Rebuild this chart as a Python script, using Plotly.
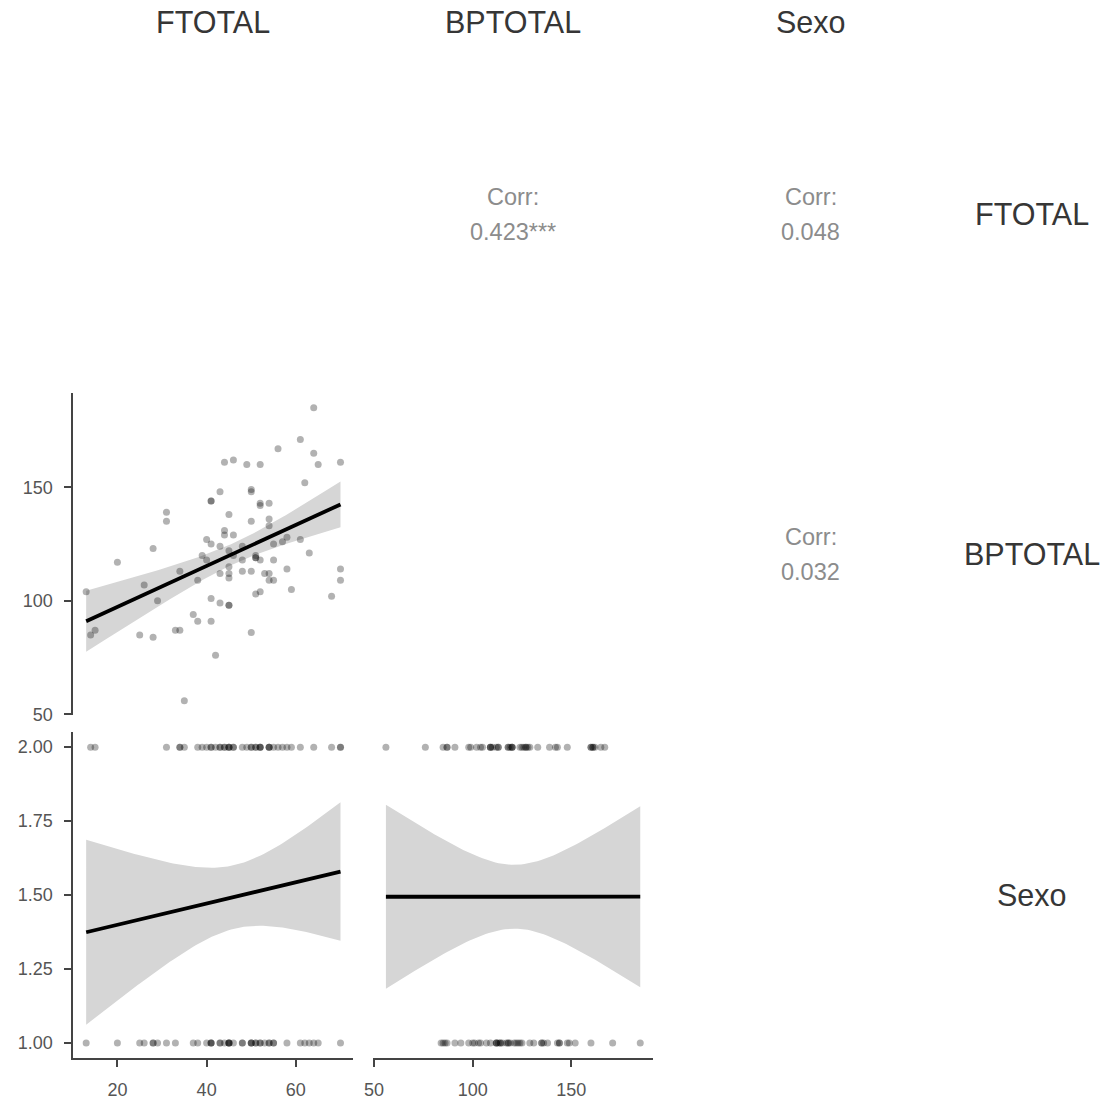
import numpy as np
import plotly.graph_objects as go

# ---------------- data ----------------
FTOTAL = [13, 14, 15, 20, 25, 26, 28, 28, 29, 31, 31, 33, 34, 34, 35, 37, 38, 38, 39, 40,
          40, 41, 41, 41, 41, 41, 42, 43, 43, 43, 43, 44, 44, 44, 45, 45, 45, 45, 45, 45,
          45, 46, 46, 46, 48, 48, 48, 49, 50, 50, 50, 50, 50, 51, 51, 51, 51, 52, 52, 52,
          52, 52, 53, 54, 54, 54, 54, 54, 55, 55, 55, 56, 57, 58, 58, 59, 61, 61, 62, 63,
          64, 64, 65, 68, 70, 70, 70]
BPTOTAL = [104, 85, 87, 117, 85, 107, 123, 84, 100, 139, 135, 87, 87, 113, 56, 94, 109, 91, 120, 127,
           118, 144, 144, 125, 101, 91, 76, 148, 124, 112, 99, 161, 131, 129, 138, 122, 115, 112, 110, 98,
           98, 162, 129, 120, 124, 118, 113, 160, 149, 148, 135, 113, 86, 120, 119, 119, 103, 160, 143, 142,
           118, 104, 112, 143, 136, 133, 112, 109, 125, 118, 109, 167, 126, 128, 114, 105, 171, 127, 152, 121,
           185, 165, 160, 102, 161, 114, 109]
Sexo = [1, 2, 2, 1, 1, 1, 1, 1, 1, 2, 1, 1, 2, 2, 2, 1, 2, 1, 2, 2,
        1, 1, 1, 2, 1, 2, 2, 1, 2, 1, 2, 2, 1, 2, 1, 1, 1, 2, 2, 2,
        1, 2, 1, 2, 1, 2, 1, 2, 1, 2, 1, 2, 1, 2, 1, 2, 1, 2, 1, 2,
        1, 2, 1, 2, 1, 2, 1, 2, 1, 2, 1, 2, 2, 2, 1, 2, 1, 2, 1, 1,
        1, 2, 1, 2, 2, 1, 2]

variables = ["FTOTAL", "BPTOTAL", "Sexo"]
corr_labels = {("FTOTAL", "BPTOTAL"): "0.423***",
               ("FTOTAL", "Sexo"): "0.048",
               ("BPTOTAL", "Sexo"): "0.032"}
ticks = {"FTOTAL": [20, 40, 60], "BPTOTAL": [50, 100, 150], "Sexo": [1.0, 1.25, 1.5, 1.75, 2.0]}
tick_text = {"FTOTAL": ["20", "40", "60"], "BPTOTAL": ["50", "100", "150"],
             "Sexo": ["1.00", "1.25", "1.50", "1.75", "2.00"]}

data = {"FTOTAL": np.array(FTOTAL, float), "BPTOTAL": np.array(BPTOTAL, float),
        "Sexo": np.array(Sexo, float)}

W, H = 1107, 1100
# target pixel boxes in the final picture
col_px = [(72, 352), (372, 652), (670, 950)]
row_px = [(53, 375), (393, 715), (732, 1057)]


# compensation for how the page is captured (measured offset/scale)
def px_x(t):
    return (t - 7.5) / 0.9927 / W


def px_y(t):
    return 1 - (t - 0.2) / 0.991 / H


def xd(c):
    return [px_x(col_px[c][0]), px_x(col_px[c][1])]


def yd(r):
    return [px_y(row_px[r][1]), px_y(row_px[r][0])]


def rng(v):
    lo, hi = v.min(), v.max()
    s = hi - lo
    return [lo - 0.05 * s, hi + 0.05 * s]


def fit(x, y, n=80):
    b, a = np.polyfit(x, y, 1)
    xs = np.linspace(x.min(), x.max(), n)
    ys = a + b * xs
    res = y - (a + b * x)
    nobs = len(x)
    s = np.sqrt(np.sum(res ** 2) / (nobs - 2))
    se = s * np.sqrt(1 / nobs + (xs - x.mean()) ** 2 / np.sum((x - x.mean()) ** 2))
    t = 1.99
    return xs, ys, ys - t * se, ys + t * se


fig = go.Figure()
tick_font = dict(family="Liberation Sans, Arial, sans-serif", size=18, color="#555555")
axis_common = dict(showgrid=False, zeroline=False, linecolor="#444444", linewidth=2,
                   ticks="outside", ticklen=7, tickwidth=2, tickcolor="#444444",
                   tickfont=tick_font)

# panels in the lower triangle: (row, col)
panels = [(1, 0), (2, 0), (2, 1)]
for k, (r, c) in enumerate(panels, start=1):
    xv = variables[c]
    yv = variables[r]
    x = data[xv]
    y = data[yv]
    xs, ys, lo, hi = fit(x, y)
    xa = "x" if k == 1 else f"x{k}"
    ya = "y" if k == 1 else f"y{k}"
    fig.add_trace(go.Scatter(x=np.concatenate([xs, xs[::-1]]), y=np.concatenate([hi, lo[::-1]]),
                             fill="toself", fillcolor="#d6d6d6", line=dict(width=0),
                             mode="lines", hoverinfo="skip", showlegend=False, xaxis=xa, yaxis=ya))
    fig.add_trace(go.Scatter(x=x, y=y, mode="markers",
                             marker=dict(size=7, color="rgba(0,0,0,0.3)", line=dict(width=0)),
                             showlegend=False, xaxis=xa, yaxis=ya))
    fig.add_trace(go.Scatter(x=xs, y=ys, mode="lines", line=dict(color="black", width=3.8),
                             showlegend=False, xaxis=xa, yaxis=ya))

    xkey = "xaxis" if k == 1 else f"xaxis{k}"
    ykey = "yaxis" if k == 1 else f"yaxis{k}"
    bottom = (r == 2)
    left = (c == 0)
    xa_cfg = dict(axis_common, domain=xd(c), anchor=ya, range=rng(x),
                  tickvals=ticks[xv], ticktext=tick_text[xv], ticklabelstandoff=8)
    if not bottom:
        xa_cfg.update(showline=False, ticks="", showticklabels=False)
    else:
        xa_cfg.update(showline=True)
    ya_cfg = dict(axis_common, domain=yd(r), anchor=xa, range=rng(y),
                  tickvals=ticks[yv], ticktext=tick_text[yv], ticklabelstandoff=8)
    if not left:
        ya_cfg.update(showline=False, ticks="", showticklabels=False)
    else:
        ya_cfg.update(showline=True)
    fig.layout[xkey] = xa_cfg
    fig.layout[ykey] = ya_cfg

annotations = []
strip_font = dict(family="Liberation Sans, Arial, sans-serif", size=30.5, color="#363636")
for i, v in enumerate(variables):
    cx = px_x((col_px[i][0] + col_px[i][1]) / 2)
    annotations.append(dict(text=v, x=cx, y=px_y(22), xref="paper", yref="paper",
                            showarrow=False, font=strip_font, xanchor="center", yanchor="middle"))
    cy = px_y((row_px[i][0] + row_px[i][1]) / 2)
    annotations.append(dict(text=v, x=px_x(1031), y=cy, xref="paper", yref="paper",
                            showarrow=False, font=strip_font, xanchor="center", yanchor="middle"))

corr_font = dict(family="Liberation Sans, Arial, sans-serif", size=23.5, color="#8c8c8c")
for (a, b), lab in corr_labels.items():
    r = variables.index(a)
    c = variables.index(b)
    cx = px_x((col_px[c][0] + col_px[c][1]) / 2)
    cy = (row_px[r][0] + row_px[r][1]) / 2
    annotations.append(dict(text="Corr:", x=cx, y=px_y(cy - 17), xref="paper", yref="paper",
                            showarrow=False, font=corr_font, xanchor="center", yanchor="middle"))
    annotations.append(dict(text=lab, x=cx, y=px_y(cy + 18), xref="paper", yref="paper",
                            showarrow=False, font=corr_font, xanchor="center", yanchor="middle"))

fig.update_layout(width=W, height=H, margin=dict(l=0, r=0, t=0, b=0),
                  paper_bgcolor="white", plot_bgcolor="white",
                  annotations=annotations, showlegend=False)

fig.write_html("out.html")
